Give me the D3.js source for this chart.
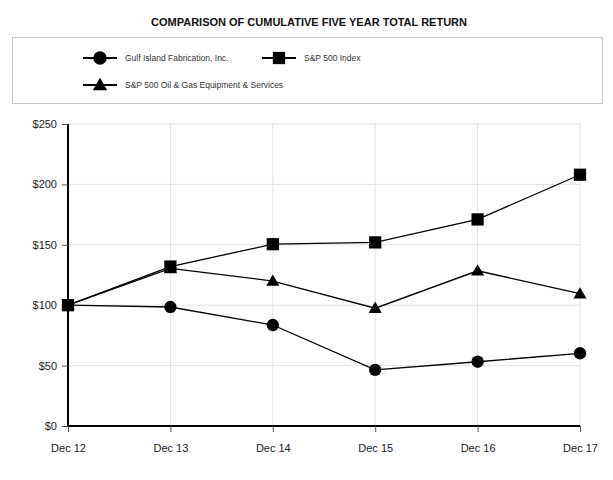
<!DOCTYPE html>
<html><head><meta charset="utf-8">
<script src="https://cdn.jsdelivr.net/npm/d3@7"></script>
<style>body{margin:0;background:#fff;}svg{display:block;font-family:"Liberation Sans",Arial,sans-serif;}</style>
</head><body>
<svg id="c" width="613" height="480"></svg>
<script>
const categories = ["Dec 12","Dec 13","Dec 14","Dec 15","Dec 16","Dec 17"];
const gulfIsland = [100, 98.5, 83.6, 46.5, 53.2, 60.2];
const sp500 = [100, 132, 150.5, 152, 171, 208];
const oilGas = [100, 130.5, 120, 97.5, 128.5, 109.5];
const yTicks = [0, 50, 100, 150, 200, 250];
const seriesNames = ["Gulf Island Fabrication, Inc.", "S&P 500 Index", "S&P 500 Oil & Gas Equipment & Services"];
const title = "COMPARISON OF CUMULATIVE FIVE YEAR TOTAL RETURN";

const svg = d3.select("#c");
const x = d3.scalePoint().domain(categories).range([68, 580]);
const y = d3.scaleLinear().domain([0, 250]).range([426, 124]);

svg.append("text").attr("x", 309).attr("y", 26).attr("text-anchor", "middle")
  .attr("font-size", 11).attr("font-weight", "bold").attr("fill", "#111").text(title);

svg.append("rect").attr("x", 12.5).attr("y", 37.5).attr("width", 590).attr("height", 66)
  .attr("fill", "none").attr("stroke", "#c8c8c8");

// grid
svg.append("g").selectAll("line").data(yTicks).join("line")
  .attr("x1", 68).attr("x2", 580).attr("y1", d => y(d)).attr("y2", d => y(d))
  .attr("stroke", "#e2e2e2").attr("stroke-width", 1);
svg.append("g").selectAll("line").data(categories).join("line")
  .attr("x1", d => x(d)).attr("x2", d => x(d)).attr("y1", 124).attr("y2", 426)
  .attr("stroke", "#e2e2e2").attr("stroke-width", 1);

// axes
const yAxis = svg.append("g").attr("transform", "translate(68,0)")
  .call(d3.axisLeft(y).tickValues(yTicks).tickFormat(d => "$" + d).tickSize(6).tickPadding(5));
const xAxis = svg.append("g").attr("transform", "translate(0,426)")
  .call(d3.axisBottom(x).tickSize(6).tickPadding(12));
[yAxis, xAxis].forEach(a => {
  a.select(".domain").attr("stroke", "#000").attr("stroke-width", 2);
  a.selectAll(".tick line").attr("stroke", "#555");
  a.selectAll("text").attr("font-size", 11).attr("fill", "#222").attr("font-family", "Liberation Sans, Arial, sans-serif");
});
yAxis.select(".domain").attr("d", "M0,124V426");
xAxis.select(".domain").attr("d", "M68,0H580");

const line = d3.line().x((d, i) => x(categories[i])).y(d => y(d));
const sym = {
  circle: d3.symbol().type(d3.symbolCircle).size(120),
  square: d3.symbol().type(d3.symbolSquare).size(150),
  triangle: d3.symbol().type(d3.symbolTriangle).size(75)
};
const series = [
  {vals: oilGas, s: "triangle"},
  {vals: gulfIsland, s: "circle"},
  {vals: sp500, s: "square"}
];
series.forEach(se => {
  svg.append("path").datum(se.vals).attr("d", line).attr("fill", "none").attr("stroke", "#000").attr("stroke-width", 1.3);
  svg.append("g").selectAll("path").data(se.vals).join("path")
    .attr("transform", (d, i) => `translate(${x(categories[i])},${y(d) + (se.s === "triangle" ? 1 : 0)})`)
    .attr("d", sym[se.s]()).attr("fill", "#000");
});

// legend
const leg = [
  {name: seriesNames[0], s: "circle", x: 83, y: 58},
  {name: seriesNames[1], s: "square", x: 262, y: 58},
  {name: seriesNames[2], s: "triangle", x: 83, y: 85}
];
const legSym = {
  circle: d3.symbol().type(d3.symbolCircle).size(140),
  square: d3.symbol().type(d3.symbolSquare).size(150),
  triangle: d3.symbol().type(d3.symbolTriangle).size(90)
};
leg.forEach(l => {
  const g = svg.append("g");
  g.append("line").attr("x1", l.x).attr("x2", l.x + 34).attr("y1", l.y).attr("y2", l.y).attr("stroke", "#000").attr("stroke-width", 2);
  g.append("path").attr("transform", `translate(${l.x + 17},${l.y + (l.s === "triangle" ? 1 : 0)})`).attr("d", legSym[l.s]()).attr("fill", "#000");
  g.append("text").attr("x", l.x + 42).attr("y", l.y + 3).attr("font-size", 8.5).attr("fill", "#333").text(l.name);
});
</script>
</body></html>
